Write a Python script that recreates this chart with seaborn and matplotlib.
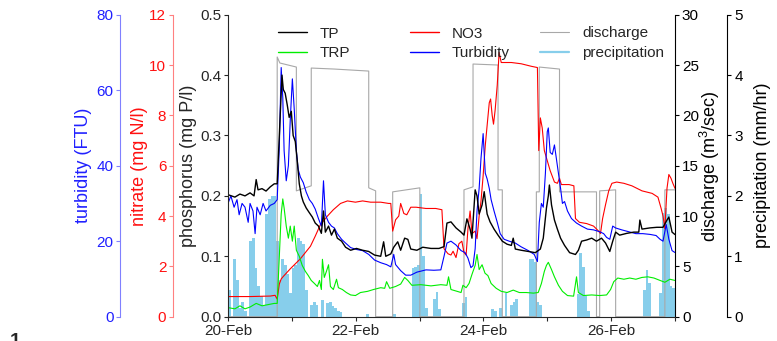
import numpy as np
import pandas as pd
import matplotlib
matplotlib.use('Agg')
import matplotlib.pyplot as plt
from matplotlib.lines import Line2D
import seaborn as sns

sns.set_style('ticks')
plt.rcParams['font.family'] = ['Liberation Sans', 'DejaVu Sans']
plt.rcParams['mathtext.default'] = 'regular'

# all times are hours after 20-Feb 00:00
day_ticks = [0, 48, 96, 144]
day_labels = ['20-Feb', '22-Feb', '24-Feb', '26-Feb']

tp_hours = [0, 2.6, 4.5, 6.4, 8.3, 9.8, 10.6, 11.3, 12.8, 14.3,
            15.9, 17.4, 18.5, 19.3, 20.3, 20.8, 21.5, 22.3, 23.0, 23.8,
            24.5, 25.3, 26.0, 26.8, 27.6, 28.3, 29.4, 30.6, 31.7, 32.8,
            34.0, 35.1, 35.9, 36.6, 37.8, 38.9, 40.0, 41.1, 42.7, 44.2,
            46.1, 48.3, 50.6, 52.9, 55.1, 57.4, 58.5, 59.3, 61.2, 62.3,
            63.8, 64.9, 66.4, 67.6, 68.7, 71.0, 73.2, 76.3, 79.3, 81.2,
            82.3, 83.8, 85.7, 87.6, 88.7, 89.8, 91.0, 91.7, 92.9, 93.6,
            94.4, 95.5, 96.3, 97.4, 98.5, 100.0, 101.5, 103.1, 104.9, 106.5,
            107.2, 108.0, 110.2, 112.9, 115.5, 117.4, 118.5, 119.7, 120.4, 120.8,
            121.6, 122.7, 123.8, 125.0, 126.5, 128.4, 130.6, 131.7, 132.9, 134.8,
            136.7, 138.5, 140.4, 141.9, 143.5, 144.6, 145.7, 147.2, 149.9, 152.5,
            154.4, 154.8, 155.6, 158.6, 161.2, 163.5, 165.0, 165.7, 166.9, 168]
tp_mgl = [0.202, 0.198, 0.203, 0.2, 0.205, 0.2, 0.227, 0.21, 0.212, 0.208,
          0.215, 0.22, 0.22, 0.3, 0.40, 0.376, 0.37, 0.35, 0.33, 0.34,
          0.30, 0.29, 0.26, 0.22, 0.20, 0.19, 0.18, 0.172, 0.165, 0.155,
          0.15, 0.138, 0.175, 0.14, 0.15, 0.135, 0.145, 0.13, 0.125, 0.115,
          0.11, 0.113, 0.11, 0.108, 0.102, 0.1, 0.124, 0.1, 0.104, 0.115,
          0.124, 0.11, 0.13, 0.128, 0.112, 0.11, 0.115, 0.113, 0.113, 0.116,
          0.155, 0.157, 0.147, 0.14, 0.135, 0.162, 0.145, 0.13, 0.21, 0.2,
          0.17, 0.185, 0.207, 0.17, 0.157, 0.145, 0.135, 0.125, 0.12, 0.118,
          0.13, 0.112, 0.11, 0.108, 0.106, 0.112, 0.13, 0.18, 0.2, 0.218,
          0.185, 0.16, 0.145, 0.13, 0.118, 0.106, 0.103, 0.11, 0.125, 0.127,
          0.13, 0.125, 0.13, 0.122, 0.108, 0.125, 0.14, 0.135, 0.138, 0.14,
          0.14, 0.16, 0.145, 0.147, 0.148, 0.148, 0.16, 0.165, 0.14, 0.136]

trp_hours = [0, 2.6, 4.5, 6.4, 8.3, 10.6, 12.8, 15.1, 17.4, 18.5,
             19.3, 20.0, 20.6, 21.1, 21.9, 22.7, 23.4, 24.2, 24.9, 25.7,
             26.8, 27.9, 29.1, 30.2, 31.3, 32.5, 33.6, 34.4, 35.1, 35.5,
             36.2, 37.0, 37.8, 38.5, 39.6, 40.8, 41.5, 43.0, 44.5, 46.1,
             47.9, 49.8, 52.5, 54.7, 57.4, 58.9, 59.6, 60.8, 63.0, 64.9,
             66.4, 67.6, 69.1, 72.5, 76.3, 80.0, 82.3, 82.9, 83.8, 86.1,
             87.6, 88.3, 89.5, 90.6, 91.7, 92.9, 93.6, 94.4, 95.5, 96.6,
             97.7, 98.9, 100.8, 102.7, 104.9, 107.2, 109.5, 112.1, 114.8, 116.6,
             117.8, 118.9, 119.7, 120.4, 121.6, 122.7, 124.2, 125.7, 127.6, 129.9,
             131.0, 131.7, 133.6, 136.7, 139.7, 142.3, 143.8, 145.0, 146.5, 148.8,
             151.0, 153.3, 155.6, 157.8, 160.1, 162.4, 164.2, 166.1, 168]
trp_mgl = [0.015, 0.013, 0.018, 0.013, 0.016, 0.022, 0.018, 0.02, 0.022, 0.022,
           0.1, 0.17, 0.195, 0.18, 0.15, 0.13, 0.15, 0.125, 0.15, 0.11,
           0.1, 0.085, 0.075, 0.068, 0.06, 0.055, 0.05, 0.06, 0.045, 0.095,
           0.065, 0.075, 0.086, 0.05, 0.045, 0.062, 0.048, 0.045, 0.04, 0.036,
           0.035, 0.04, 0.042, 0.045, 0.048, 0.047, 0.058, 0.047, 0.05, 0.054,
           0.065, 0.06, 0.052, 0.053, 0.051, 0.053, 0.052, 0.066, 0.045, 0.042,
           0.04, 0.052, 0.048, 0.055, 0.07, 0.085, 0.103, 0.078, 0.086, 0.072,
           0.068, 0.055, 0.047, 0.042, 0.04, 0.044, 0.04, 0.04, 0.039, 0.04,
           0.055, 0.075, 0.085, 0.09, 0.078, 0.066, 0.052, 0.042, 0.035, 0.034,
           0.066, 0.04, 0.035, 0.036, 0.035, 0.036, 0.045, 0.058, 0.064, 0.062,
           0.064, 0.062, 0.065, 0.066, 0.064, 0.06, 0.057, 0.062, 0.06]

no3_hours = [0, 8.3, 15.9, 17.7, 18.5, 19.3, 20.0, 20.8, 23.4, 27.2,
             29.1, 31.0, 32.8, 34.7, 37.4, 39.6, 42.3, 44.9, 47.9, 50.6,
             53.6, 57.4, 60.4, 61.2, 61.9, 63.0, 64.2, 64.9, 66.1, 67.2,
             68.7, 70.7, 74.4, 78.1, 80.4, 81.2, 82.7, 83.8, 84.6, 85.7,
             86.8, 87.9, 88.7, 89.5, 90.2, 91.0, 91.7, 92.9, 93.6, 94.4,
             95.1, 95.9, 96.7, 97.4, 98.2, 98.7, 99.3, 99.8, 100.4, 101.2,
             101.9, 102.7, 106.5, 110.2, 114.0, 116.3, 116.8, 117.4, 118.1, 118.9,
             120.0, 121.1, 122.7, 123.8, 124.6, 125.3, 128.2, 130.0, 130.6, 132.1,
             134.8, 137.4, 139.3, 140.0, 140.8, 141.9, 143.1, 144.3, 146.1, 148.8,
             151.8, 155.6, 159.4, 161.6, 162.8, 163.5, 164.2, 165.0, 165.7, 166.5,
             167.2, 168]
no3_mgl = [0.8, 0.8, 0.82, 0.85, 0.7, 1.3, 1.5, 1.6, 1.9, 2.3,
           2.55, 2.8, 3.2, 3.65, 4.0, 4.25, 4.5, 4.6, 4.55, 4.6,
           4.55, 4.55, 4.5, 4.5, 3.4, 3.85, 4.0, 4.5, 4.1, 4.05,
           4.35, 4.35, 4.3, 4.3, 4.25, 2.7, 2.5, 2.45, 2.6, 2.35,
           2.9, 3.0, 2.55, 2.45, 3.5, 4.2, 3.3, 3.4, 3.1, 4.0,
           4.6, 5.6, 6.8, 7.6, 8.5, 8.65, 8.0, 7.65, 8.2, 9.2,
           10.5, 10.1, 10.1, 10.05, 9.95, 9.9, 6.6, 7.9, 7.5, 6.6,
           6.2, 5.8, 5.35, 5.3, 5.5, 5.25, 5.25, 5.2, 3.9, 3.75,
           3.7, 3.6, 3.4, 3.3, 3.9, 4.45, 5.0, 5.3, 5.35, 5.3,
           5.2, 5.0, 4.9, 4.75, 4.3, 4.0, 3.5, 5.1, 5.65, 5.5,
           5.3, 5.1]

turb_hours = [0, 1.1, 2.3, 3.4, 4.2, 5.3, 6.4, 7.6, 8.3, 9.4,
              10.2, 10.9, 12.1, 13.2, 14.3, 15.9, 17.4, 18.5, 19.3, 20.0,
              20.6, 21.1, 21.9, 22.7, 23.4, 24.2, 24.9, 25.7, 26.4, 27.2,
              28.3, 29.4, 30.6, 31.7, 32.8, 34.0, 35.1, 35.9, 36.6, 37.8,
              38.9, 40.0, 41.1, 42.7, 44.2, 46.1, 48.3, 50.6, 52.9, 55.1,
              57.4, 59.6, 61.2, 62.3, 63.0, 64.9, 66.8, 68.7, 71.0, 74.4,
              77.4, 80.0, 81.2, 82.3, 83.8, 85.7, 87.6, 89.1, 90.2, 91.3,
              92.1, 92.9, 93.6, 94.4, 95.1, 95.9, 96.7, 97.4, 98.2, 98.9,
              100.0, 101.2, 102.3, 103.8, 105.7, 108.0, 110.2, 112.9, 115.1, 116.3,
              117.0, 117.8, 118.5, 119.3, 120.0, 120.4, 121.1, 121.9, 122.7, 123.4,
              124.2, 125.0, 125.7, 126.5, 127.6, 129.1, 131.0, 132.9, 135.1, 137.4,
              139.7, 141.2, 142.3, 143.5, 144.6, 145.7, 148.0, 150.6, 153.3, 155.9,
              158.6, 160.9, 162.4, 163.5, 164.7, 165.7, 166.9, 168]
turb_ftu = [30, 32, 29, 31, 27, 30, 29, 25, 30, 28,
            22, 29, 27, 30, 28, 29.5, 30, 31, 45, 66,
            58, 44, 36, 40, 52, 63, 55, 44, 39, 37,
            35.5, 33, 31, 30, 28.5, 26, 24, 36, 27, 25,
            24, 23.5, 22, 20.5, 19.5, 18.3, 17.8, 17.5, 16.5, 15,
            14.3, 13.8, 13.2, 16.5, 13.8, 12.2, 11, 11, 11.8, 12.4,
            12.3, 12.4, 16, 19.5, 20, 19, 17.5, 17, 15.5, 13,
            13.5, 18, 28, 34, 42, 48.5, 38, 36.5, 34, 31,
            28, 25, 22, 20.5, 20, 19.5, 18.5, 17.5, 16.5, 14.6,
            25, 30, 29, 38, 49, 50, 43.5, 43, 45.5, 42,
            38, 34, 30, 30.5, 28, 26, 24.8, 24, 23.2, 23,
            22.5, 22, 21, 20.5, 24, 23.5, 23, 22.5, 22, 22,
            21.8, 21.5, 20.5, 20, 24.4, 20.5, 17.5, 17]

q_hours = [0, 18.5, 18.5, 19.5, 25.7, 25.7, 31.3, 31.3, 40, 52.9,
           52.9, 55.5, 55.5, 61.9, 61.9, 72.1, 72.1, 88.7, 88.7, 92.1,
           92.1, 101.5, 101.5, 103.1, 103.1, 115.9, 115.9, 117.0, 117.0, 124.6,
           124.6, 138.5, 138.5, 139.7, 139.7, 145.7, 145.7, 164.2, 164.2, 168]
q_m3s = [0, 0, 25.8, 25.2, 24.8, 12.5, 13.0, 24.7, 24.6, 24.4,
         12.8, 12.5, 0, 0, 12.4, 12.8, 0, 0, 12.6, 12.9,
         25.1, 25.0, 12.6, 12.6, 0, 0, 12.4, 12.4, 24.8, 24.6,
         12.4, 12.4, 0, 0, 12.5, 12.6, 0, 0, 12.6, 12.6]

pr_hours = [0, 2, 3, 4, 5, 6, 8, 9, 10, 11,
            12, 13, 14, 15, 16, 17, 18, 19, 20, 21,
            22, 23, 24, 25, 26, 27, 28, 29, 31, 32,
            33, 35, 37, 38, 39, 40, 41, 42, 52, 62,
            69, 70, 71, 72, 73, 74, 77, 78, 79, 88,
            89, 99, 100, 102, 104, 106, 107, 108, 113, 114,
            115, 116, 117, 131, 132, 133, 134, 135, 156, 157,
            158, 162, 163, 164, 165, 166, 167]
pr_mmhr = [0.45, 0.95, 0.6, 0.15, 0.25, 0.1, 1.25, 1.3, 0.8, 0.5,
           0.35, 0.2, 1.7, 1.95, 2.0, 2.0, 1.25, 0.6, 0.95, 0.85,
           0.7, 0.4, 0.8, 0.85, 1.3, 1.25, 1.2, 0.45, 0.2, 0.25,
           0.2, 0.28, 0.22, 0.25, 0.18, 0.15, 0.1, 0.08, 0.05, 0.05,
           0.8, 0.82, 0.85, 2.03, 1.0, 0.15, 0.3, 0.41, 0.12, 0.22,
           0.33, 0.12, 0.1, 0.15, 0.4, 0.2, 0.25, 0.3, 0.95, 0.95,
           0.9, 0.25, 0.2, 0.38, 1.05, 0.82, 0.35, 0.1, 0.45, 0.78,
           0.55, 0.4, 1.72, 1.8, 1.7, 0.5, 0.48]

c_tp, c_trp, c_no3, c_turb = 'black', '#00ee00', '#ff0000', '#0000ff'
c_q, c_pr = '#a8a8a8', '#87ceeb'
fs = 11
fs_lab = 13

precip = pd.DataFrame({'hour': np.array(pr_hours) + 0.5, 'mm': pr_mmhr})

fig = plt.figure(figsize=(7.77, 3.41), dpi=100)
fig.patch.set_facecolor('white')
ax = fig.add_axes([0.2934, 0.0713, 0.5753, 0.8856])
ax_pr = ax.twinx()
ax_q = ax.twinx()
ax_no3 = ax.twinx()
ax_turb = ax.twinx()

# stacking: precipitation at the back, phosphorus on top
for z, a in enumerate([ax_pr, ax_q, ax_no3, ax_turb, ax]):
    a.set_zorder(z + 1)
    a.patch.set_visible(False)

sns.histplot(data=precip, x='hour', weights='mm', binwidth=1, binrange=(0, 168),
             color=c_pr, alpha=1, linewidth=0, ax=ax_pr)
sns.lineplot(x=q_hours, y=q_m3s, ax=ax_q, color=c_q, linewidth=0.8,
             estimator=None, sort=False)
sns.lineplot(x=turb_hours, y=turb_ftu, ax=ax_turb, color=c_turb, linewidth=0.8,
             estimator=None, sort=False)
sns.lineplot(x=no3_hours, y=no3_mgl, ax=ax_no3, color=c_no3, linewidth=0.8,
             estimator=None, sort=False)
sns.lineplot(x=trp_hours, y=trp_mgl, ax=ax, color=c_trp, linewidth=0.8,
             estimator=None, sort=False)
sns.lineplot(x=tp_hours, y=tp_mgl, ax=ax, color=c_tp, linewidth=1.0,
             estimator=None, sort=False)

ax.set_xlim(0, 168)
ax.set_xticks(day_ticks)
ax.set_xticklabels(day_labels)
ax.set_xticks([24, 72, 120, 168], minor=True)
ax.set_xlabel('')
ax.tick_params(axis='x', which='both', length=3, width=0.8, labelsize=fs, pad=2)

# phosphorus (main left axis)
ax.set_ylim(0, 0.5)
ax.set_yticks(np.arange(0, 0.51, 0.1))
ax.set_yticklabels(['0.0', '0.1', '0.2', '0.3', '0.4', '0.5'])
ax.tick_params(axis='y', length=3, width=0.8, labelsize=fs, pad=2)
ax.spines['top'].set_visible(False)
ax.spines['right'].set_visible(False)
for s in ['left', 'bottom']:
    ax.spines[s].set_linewidth(0.8)
ax.set_ylabel('phosphorus (mg P/l)', fontsize=fs_lab)
ax.yaxis.set_label_coords(-0.0694, 0.5)


def side_axis(a, side, pos, ylim, ticks, spine_col, text_col, label, lx):
    for s in ['left', 'right', 'top', 'bottom']:
        a.spines[s].set_visible(False)
    a.spines[side].set_visible(True)
    a.spines[side].set_position(('axes', pos))
    a.spines[side].set_color(spine_col)
    a.spines[side].set_linewidth(0.8)
    a.yaxis.set_ticks_position(side)
    a.yaxis.set_label_position(side)
    a.set_ylim(*ylim)
    a.set_yticks(ticks)
    a.tick_params(axis='y', length=3, width=0.8, color=spine_col,
                  labelcolor=text_col, labelsize=fs, pad=2)
    a.set_ylabel(label, color=text_col, fontsize=fs_lab)
    a.yaxis.set_label_coords(lx, 0.5)


side_axis(ax_turb, 'left', -0.2405, (0, 80), [0, 20, 40, 60, 80],
          '#8080ff', '#2020ff', 'turbidity (FTU)', -0.3043)
side_axis(ax_no3, 'left', -0.1224, (0, 12), [0, 2, 4, 6, 8, 10, 12],
          '#ff8080', '#ff1010', 'nitrate (mg N/l)', -0.179)
side_axis(ax_q, 'right', 1.0, (0, 30), [0, 5, 10, 15, 20, 25, 30],
          'black', 'black', 'discharge (m$^{3}$/sec)', 1.052)
side_axis(ax_pr, 'right', 1.117, (0, 5), [0, 1, 2, 3, 4, 5],
          'black', 'black', 'precipitation (mm/hr)', 1.177)

# legend laid out in three fixed columns
cols = [
    (278, [('TP', c_tp, 1.0), ('TRP', c_trp, 1.0)]),
    (410, [('NO3', c_no3, 1.0), ('Turbidity', c_turb, 1.0)]),
    (540, [('discharge', c_q, 0.8), ('precipitation', c_pr, 1.6)]),
]
for x0, items in cols:
    handles = [Line2D([], [], color=c, linewidth=w) for _, c, w in items]
    labels = [t for t, _, _ in items]
    fig.legend(handles, labels, loc='upper left',
               bbox_to_anchor=(x0 / 777, 1 - 26.5 / 341),
               frameon=False, borderpad=0, borderaxespad=0,
               handlelength=1.9, handletextpad=0.85, labelspacing=0.38,
               fontsize=fs)

fig.text(0.013, 0.023, '1', fontsize=14, fontweight='bold', va='top')

fig.savefig('out.png', dpi=100)
